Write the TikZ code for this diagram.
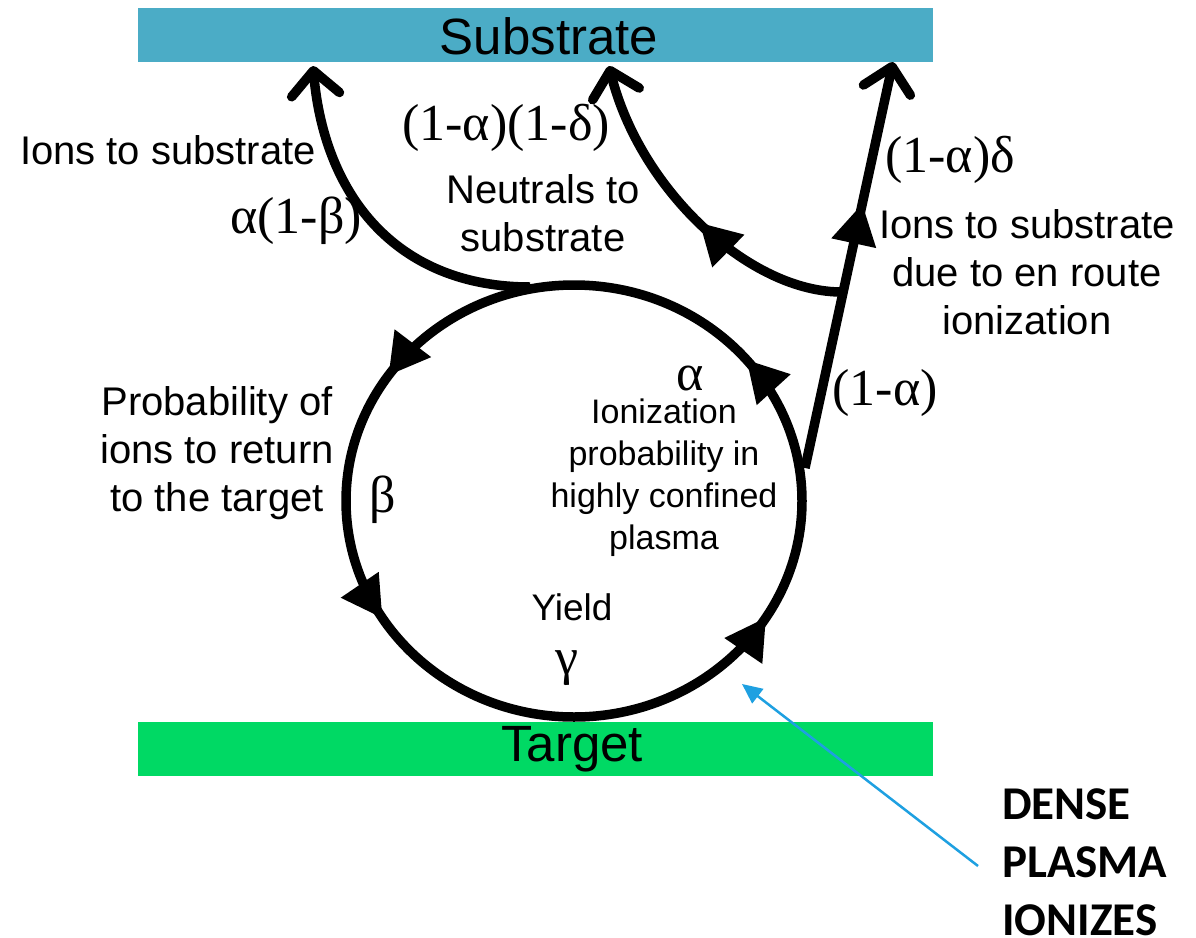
\documentclass[tikz,border=0pt]{standalone}
\usepackage{fontspec}
\setmainfont{Liberation Serif}
\setsansfont{Liberation Sans}
\newfontfamily\calib{Carlito}
\usetikzlibrary{arrows.meta,decorations.markings}
\definecolor{subc}{RGB}{75,172,198}
\definecolor{tarc}{RGB}{0,217,100}
\definecolor{annc}{RGB}{30,160,225}
\tikzset{
  tri/.tip={Triangle[length=40pt,width=46pt,line width=0pt]},
}
\begin{document}
\begin{tikzpicture}[x=1pt,y=1pt,
  lbl/.style={font=\sffamily\fontsize{40}{48}\selectfont, align=center, inner sep=0},
  sym/.style={font=\fontsize{52}{56}\selectfont, inner sep=0},
  flow/.style={line width=9.5pt},
  barb/.style={-{Straight Barb[length=24pt,width=48pt,round]}},
  bar/.style={minimum width=795pt, minimum height=54pt, inner sep=0, draw=none},
  bartext/.style={font=\sffamily\fontsize{51}{56}\selectfont, inner sep=0},
  ann/.style={draw=annc, line width=2.5pt, -{Triangle[length=20pt,width=18pt]}},
]
\path[use as bounding box, fill=white] (0,0) rectangle (1196,-937);

% bars
\node[bar, fill=subc] (sub) at (535.5,-35) {};
\node[bartext] (subt) at (549,-36) {Substrate};
\node[bar, fill=tarc] (tar) at (535.5,-748.5) {};
\node[bartext] (tart) at (572,-749) {Target};

% loop
\coordinate (C) at (574,-501);
\draw[flow, postaction={decorate}, decoration={markings,
    mark=at position 0.111 with {\arrow{tri}},
    mark=at position 0.403 with {\arrow{tri}},
    mark=at position 0.589 with {\arrow{tri}},
    mark=at position 0.911 with {\arrow{tri}}}]
  ([xshift=228pt]C) arc[start angle=0, end angle=360, x radius=228, y radius=216];

% coordinates of connectors
\coordinate (j0) at (530,-287);
\coordinate (t1) at (313,-66);
\coordinate (s0) at (805,-468);
\coordinate (t3) at (893,-62);
\coordinate (j2) at (843,-292);
\coordinate (t2) at (609,-66);

\draw[flow, barb] (j0) .. controls (400,-287) and (325,-200) .. (t1);
\draw[flow, barb, postaction={decorate}, decoration={markings,
    mark=at position 0.65 with {\arrow{tri}}}] (s0) -- (t3);
\draw[flow, barb, postaction={decorate}, decoration={markings,
    mark=at position 0.47 with {\arrow{tri}}}]
  (j2) .. controls (750,-293) and (640,-190) .. (t2);

% labels
\node[lbl] (l1) at (168,-150) {Ions to substrate};
\node[sym] (a1b) at (296,-221) {α(1-β)};
\node[sym] (a1d) at (506,-128) {(1-α)(1-δ)};
\node[lbl] (neu) at (543,-213) {Neutrals to\\substrate};
\node[sym] (ad) at (950,-160) {(1-α)δ};
\node[lbl] (ion2) at (1027,-272) {Ions to substrate\\due to en route\\ionization};
\node[sym] (oma) at (885,-393) {(1-α)};
\node[sym] (alpha) at (690,-378) {α};
\node[lbl, font=\sffamily\fontsize{34}{42}\selectfont] (ionz) at (664,-478) {Ionization\\probability in\\highly confined\\plasma};
\node[lbl] (prob) at (217,-453) {Probability of\\ions to return\\to the target};
\node[sym] (beta) at (383,-500) {β};
\node[lbl, font=\sffamily\fontsize{37}{42}\selectfont] (yield) at (572,-607) {Yield};
\node[sym] (gamma) at (567,-668) {γ};

% annotation
\node[inner sep=0, anchor=west, align=left, font=\calib\bfseries\fontsize{47}{58}\selectfont] (dense) at (1002,-862) {DENSE\\PLASMA\\IONIZES};
\coordinate (annt) at (742,-684);
\draw[ann] ([xshift=-24pt,yshift=-4pt]dense.west) -- (annt);
\end{tikzpicture}
\end{document}
